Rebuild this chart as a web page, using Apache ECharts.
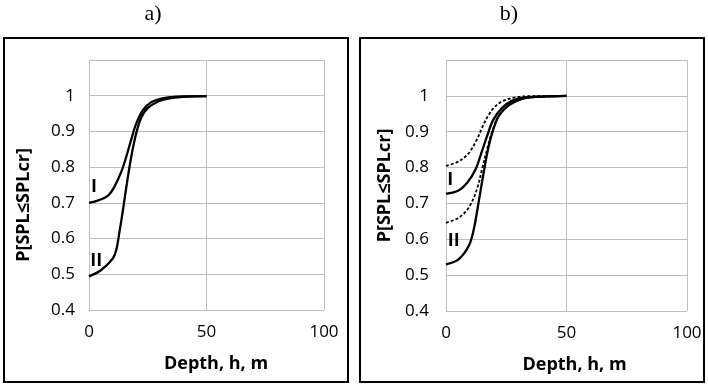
<!DOCTYPE html>
<html>
<head>
<meta charset="utf-8">
<script src="https://cdn.jsdelivr.net/npm/echarts@6/dist/echarts.min.js"></script>
<style>
html,body{margin:0;padding:0;background:#fff;}
#c{width:708px;height:387px;}
</style>
</head>
<body>
<div id="c"></div>
<script>
// ---- Data ----
var panelTitles = ['a)', 'b)'];
var xTicks = [0, 50, 100];
var yTicks = [0.4, 0.5, 0.6, 0.7, 0.8, 0.9, 1];

// Panel a
var aI_x  = [0, 4, 8.1, 10.9, 13.8, 15.9, 18, 20.1, 23, 26.5, 30.8, 35, 40, 50];
var aI_y  = [0.700, 0.707, 0.720, 0.746, 0.788, 0.830, 0.878, 0.922, 0.960, 0.982, 0.992, 0.996, 0.998, 0.999];
var aII_x = [0, 5.2, 10.2, 11.6, 13, 14.5, 15.9, 18, 20.1, 22.3, 25.1, 29.4, 33.6, 40, 50];
var aII_y = [0.494, 0.512, 0.545, 0.568, 0.620, 0.682, 0.745, 0.830, 0.895, 0.940, 0.966, 0.984, 0.992, 0.997, 0.999];

// Panel b
var bDashTop_x = [0, 5.2, 9.4, 12.8, 14.9, 17.7, 21.1, 25.3, 30, 35, 40, 50];
var bDashTop_y = [0.805, 0.817, 0.840, 0.878, 0.910, 0.947, 0.975, 0.990, 0.997, 0.999, 0.999, 1.0];
var bI_x = [0, 5.2, 8.7, 12.2, 14.9, 17, 19.6, 23.2, 27.3, 32.2, 40, 50];
var bI_y = [0.727, 0.736, 0.757, 0.794, 0.845, 0.887, 0.933, 0.966, 0.986, 0.995, 0.998, 1.0];
var bDashLow_x = [0, 5.2, 9.4, 12.8, 14.9, 17, 19.1, 21.8, 25.3, 29.4, 32.9, 40, 50];
var bDashLow_y = [0.646, 0.660, 0.688, 0.739, 0.794, 0.850, 0.900, 0.943, 0.970, 0.989, 0.995, 0.998, 1.0];
var bII_x = [0, 5.2, 9.4, 11.5, 13.5, 15.6, 17.7, 19.8, 21.8, 25.3, 29.4, 32.9, 40, 50];
var bII_y = [0.530, 0.544, 0.581, 0.627, 0.702, 0.785, 0.859, 0.910, 0.943, 0.970, 0.986, 0.994, 0.998, 1.0];

// curve labels [grid, text, x, y] in data units
var curveLabels = [
  [0, 'I', 2.1, 0.746], [0, 'II', 3.1, 0.538],
  [1, 'I', 1.8, 0.766], [1, 'II', 3.2, 0.595]
];

function zip(xs, ys) { return xs.map(function (x, i) { return [x, ys[i]]; }); }

var tickFont = { fontFamily: 'Open Sans', fontSize: 17, color: '#000' };
var nameFont = { fontFamily: 'Open Sans', fontSize: 18, fontWeight: 'bold', color: '#000' };
var gridLine = { show: true, lineStyle: { color: '#bfbfbf', width: 1 } };

function xAxisCfg(idx, padL) {
  return {
    type: 'value', gridIndex: idx, min: 0, max: 100, interval: 50,
    axisLine: { show: false }, axisTick: { show: false },
    splitLine: gridLine,
    axisLabel: Object.assign({ margin: 14 }, tickFont),
    name: 'Depth, h, m', nameLocation: 'middle', nameGap: 45,
    nameTextStyle: Object.assign({ padding: [0, 0, 0, padL] }, nameFont)
  };
}
function yAxisCfg(idx, gap, padR, margin) {
  return {
    type: 'value', gridIndex: idx, min: 0.4, max: 1.1, interval: 0.1,
    axisLine: { show: false }, axisTick: { show: false },
    splitLine: gridLine,
    axisLabel: Object.assign({
      margin: margin,
      formatter: function (v) { return v > 1.05 ? '' : String(+v.toFixed(1)); }
    }, tickFont),
    name: 'P[SPL≤SPLcr]', nameLocation: 'middle', nameGap: gap, nameRotate: 90,
    nameTextStyle: Object.assign({ padding: [0, padR, 0, 0] }, nameFont)
  };
}
function line(idx, data, dashed) {
  return {
    type: 'line', xAxisIndex: idx, yAxisIndex: idx, data: data,
    smooth: 0.35, symbol: 'none', silent: true,
    lineStyle: { color: '#000', width: dashed ? 1.8 : 2.3, type: dashed ? [3, 2] : 'solid' }
  };
}

var chart = echarts.init(document.getElementById('c'), null, { renderer: 'canvas' });
chart.setOption({
  animation: false,
  backgroundColor: '#fff',
  grid: [
    { left: 89, top: 60, width: 235, height: 250 },
    { left: 446, top: 60, width: 241, height: 251 }
  ],
  xAxis: [xAxisCfg(0, 19), xAxisCfg(1, 16)],
  yAxis: [yAxisCfg(0, 56, 40, 14), yAxisCfg(1, 52, 0, 17)],
  series: [
    line(0, zip(aI_x, aI_y), false),
    line(0, zip(aII_x, aII_y), false),
    line(1, zip(bDashTop_x, bDashTop_y), true),
    line(1, zip(bI_x, bI_y), false),
    line(1, zip(bDashLow_x, bDashLow_y), true),
    line(1, zip(bII_x, bII_y), false)
  ]
});

var g = [
  { type: 'rect', shape: { x: 4, y: 38, width: 344, height: 344 }, style: { fill: 'none', stroke: '#000', lineWidth: 2 }, z: 10 },
  { type: 'rect', shape: { x: 360, y: 38, width: 344, height: 344 }, style: { fill: 'none', stroke: '#000', lineWidth: 2 }, z: 10 },
  { type: 'text', x: 153, y: 14, style: { text: panelTitles[0], font: '22px "Liberation Serif"', fill: '#000', textAlign: 'center', textVerticalAlign: 'middle' } },
  { type: 'text', x: 509, y: 14, style: { text: panelTitles[1], font: '22px "Liberation Serif"', fill: '#000', textAlign: 'center', textVerticalAlign: 'middle' } }
];
curveLabels.forEach(function (c) {
  var p = chart.convertToPixel({ gridIndex: c[0] }, [c[2], c[3]]);
  g.push({ type: 'text', x: p[0], y: p[1], z: 20,
    style: { text: c[1], font: 'bold 18px "Open Sans"', fill: '#000', textAlign: 'center', textVerticalAlign: 'middle' } });
});
chart.setOption({ graphic: g });
</script>
</body>
</html>
